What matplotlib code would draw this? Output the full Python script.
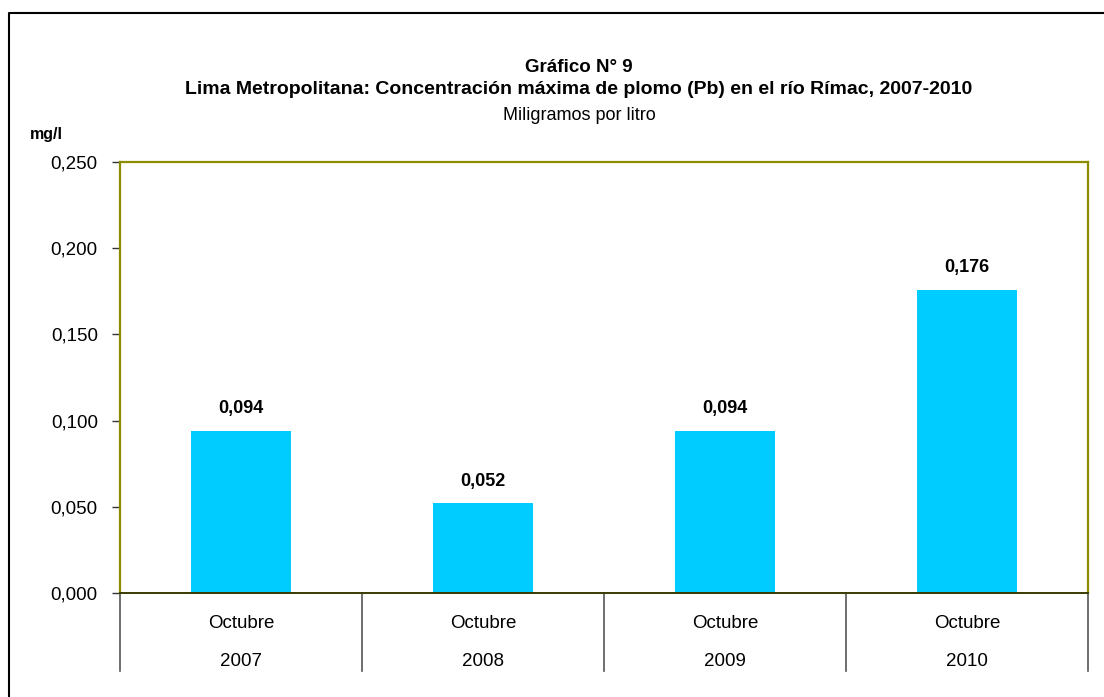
import matplotlib
matplotlib.use("Agg")
import matplotlib.pyplot as plt
from matplotlib.lines import Line2D
import matplotlib.transforms as mtransforms
from matplotlib.ticker import FuncFormatter

months = ["Octubre", "Octubre", "Octubre", "Octubre"]
years = ["2007", "2008", "2009", "2010"]
values = [0.094, 0.052, 0.094, 0.176]
value_labels = ["0,094", "0,052", "0,094", "0,176"]
yticks = [0.0, 0.05, 0.10, 0.15, 0.20, 0.25]

plt.rcParams['font.family'] = ['Liberation Sans', 'DejaVu Sans']

W, H = 1104, 697
fig = plt.figure(figsize=(W / 100, H / 100), dpi=100)
ax = fig.add_axes([120 / W, 1 - 593 / H, (1088 - 120) / W, (593 - 162) / H])

x = list(range(len(values)))
ax.bar(x, values, width=0.41, color='#00CCFF', zorder=2)
ax.set_xlim(-0.5, len(values) - 0.5)
ax.set_ylim(0, 0.25)
ax.set_yticks(yticks)
ax.yaxis.set_major_formatter(FuncFormatter(lambda v, p: f"{v:.3f}".replace('.', ',')))
ax.tick_params(axis='y', direction='out', length=6, width=1, color='#333333',
               labelsize=13.5, pad=10)
ax.set_xticks([])

olive = '#8C8C00'
for s in ['top', 'right', 'left']:
    ax.spines[s].set_color(olive)
    ax.spines[s].set_linewidth(1.6)
ax.spines['bottom'].set_color('#3a3a00')
ax.spines['bottom'].set_linewidth(1.4)

for xi, v, lab in zip(x, values, value_labels):
    ax.annotate(lab, (xi, v), xytext=(0, 22), textcoords='offset pixels',
                ha='center', va='center', fontsize=13, fontweight='bold')

trans = mtransforms.blended_transform_factory(ax.transData, fig.transFigure)
y0 = 1 - 593 / H
y1 = 1 - 671 / H
for b in [i - 0.5 for i in range(len(values) + 1)]:
    ax.add_line(Line2D([b, b], [y0, y1], transform=trans, color='#555555',
                       lw=1.2, clip_on=False))
for xi, m, yr in zip(x, months, years):
    ax.text(xi, 1 - 623 / H, m, transform=trans, ha='center', va='center', fontsize=13.5)
    ax.text(xi, 1 - 661 / H, yr, transform=trans, ha='center', va='center', fontsize=13.5)

cx = 579 / W
fig.text(cx, 1 - 68 / H, "Gráfico N° 9", ha='center', va='center',
         fontsize=13.5, fontweight='bold')
fig.text(cx, 1 - 90 / H,
         "Lima Metropolitana: Concentración máxima de plomo (Pb) en el río Rímac, 2007-2010",
         ha='center', va='center', fontsize=14, fontweight='bold')
fig.text(cx, 1 - 116 / H, "Miligramos por litro", ha='center', va='center',
         fontsize=13)
fig.text(30 / W, 1 - 134 / H, "mg/l", ha='left', va='center', fontsize=11.5,
         fontweight='bold')

fig.add_artist(Line2D([8.5 / W, 8.5 / W, 1.0], [0.0, 1 - 13 / H, 1 - 13 / H],
                      transform=fig.transFigure, color='black', lw=1.5))

fig.savefig("out.png", dpi=100)
